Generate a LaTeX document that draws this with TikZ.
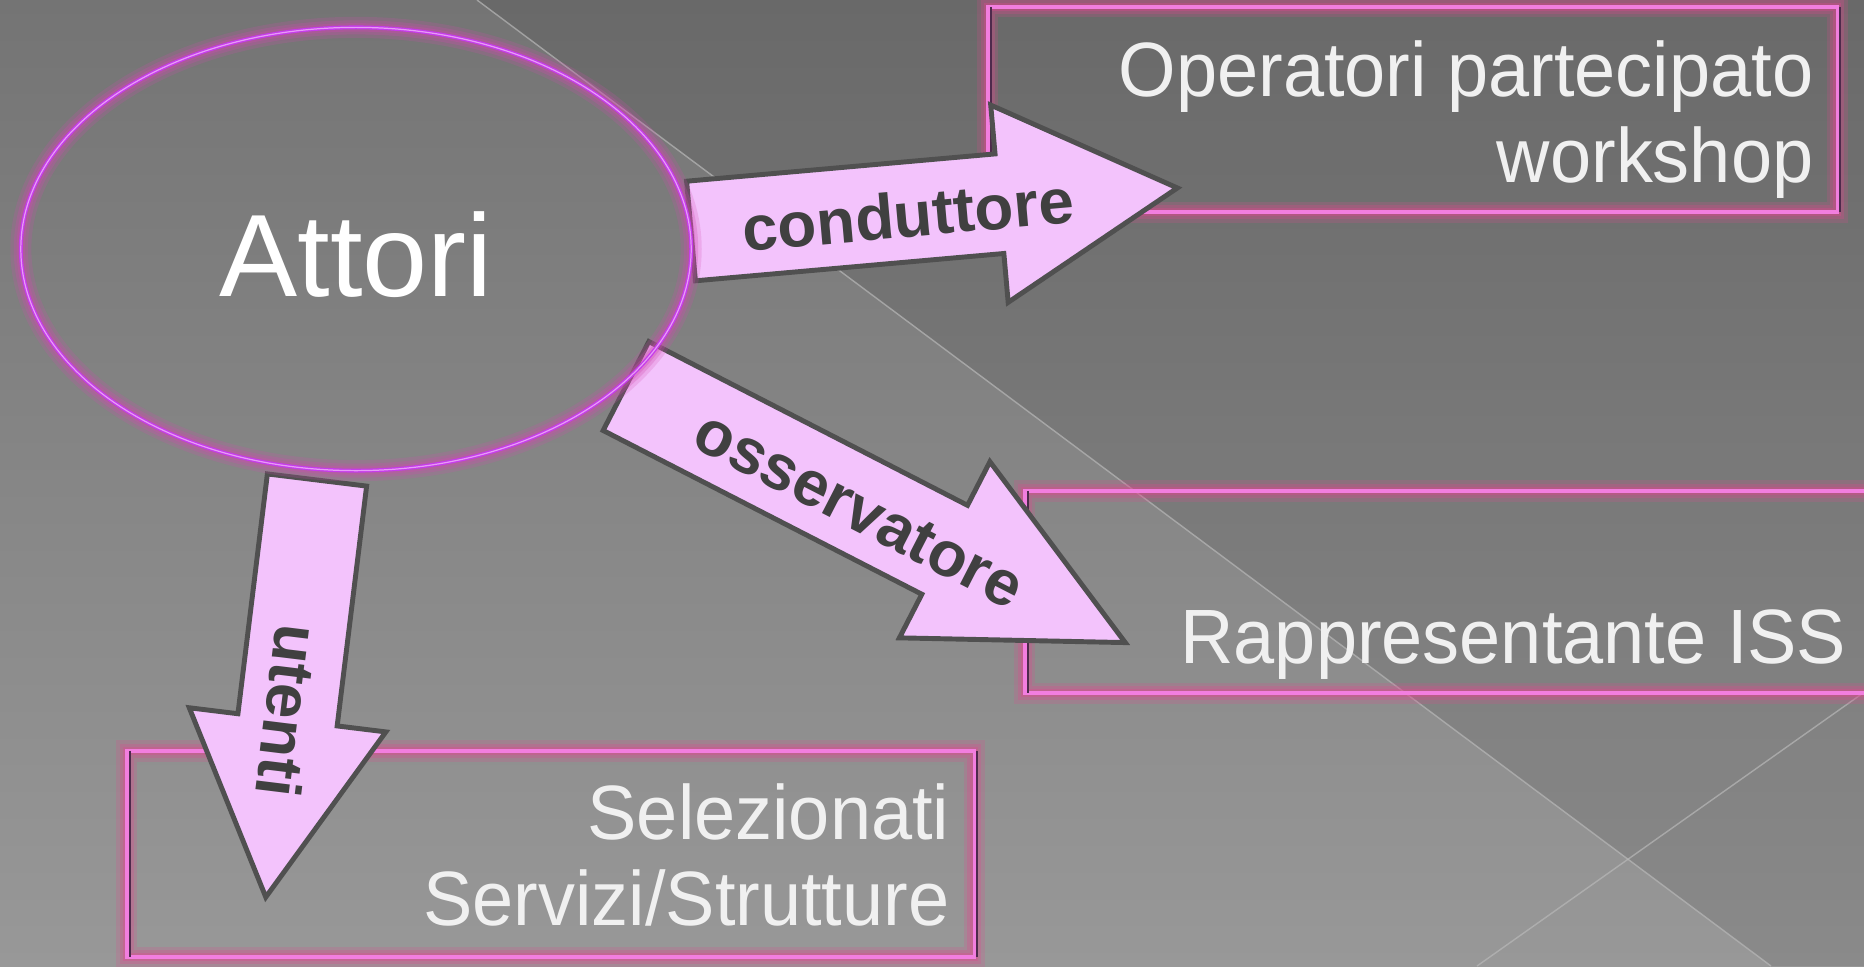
\documentclass[tikz,border=0pt]{standalone}
\usepackage{fontspec}
\setmainfont{Liberation Sans}
\newfontfamily\narrowsans[FakeStretch=0.96]{Liberation Sans}
\usetikzlibrary{shapes.geometric, shapes.arrows}

\definecolor{bgtop}{HTML}{747474}
\definecolor{bgbottom}{HTML}{989898}
\definecolor{bgline}{HTML}{B8B8B8}
\definecolor{framepink}{HTML}{F27EDF}
\definecolor{framedark}{HTML}{4E2A4C}
\definecolor{frameglow}{HTML}{E0488F}
\definecolor{ringviolet}{HTML}{C63CEB}
\definecolor{ringlight}{HTML}{E89AF7}
\definecolor{ringglow}{HTML}{D04AB0}
\definecolor{arrowfill}{HTML}{F3C3FC}
\definecolor{arrowedge}{HTML}{505050}
\definecolor{labelgray}{HTML}{404040}
\definecolor{boxwhite}{HTML}{F0F0F0}

\begin{document}
\begin{tikzpicture}
[
    x=0.01cm, y=-0.01cm,
    % One unit is one pixel of the slide (1864 x 966), y grows downwards
    % Boxes are named B-role, arrows A-role, texts T-role
]

%=================================== Start ===================================
\tikzstyle{haze}    = [preaction={draw=#1, line width=6pt, draw opacity=0.2},
                       preaction={draw=#1, line width=4pt, draw opacity=0.26},
                       preaction={draw=#1, line width=2.4pt, draw opacity=0.32}]
\tikzstyle{glowbox} = [
    rectangle, draw=framepink, line width=1pt, inner sep=0pt, outer sep=0pt,
    haze=frameglow,
    append after command={
        % dark bevel line on the two upright sides
        \foreach \side in {west, east} {
            ([xshift=0.85pt]\tikzlastnode.north \side) edge[draw=framedark, line width=0.6pt]
                ([xshift=0.85pt]\tikzlastnode.south \side)
        }
    }
]
\tikzstyle{blockarrow} = [
    single arrow, draw=arrowedge, fill=arrowfill, line width=1.4pt,
    inner xsep=0pt, inner ysep=0.475cm, outer sep=0pt, anchor=tail,
    single arrow head extend=0.49cm, single arrow tip angle=#1
]
\tikzstyle{arrowlabel} = [anchor=base, inner sep=0pt, text=labelgray,
                          font=\fontsize{18.1}{20}\selectfont\bfseries]
\tikzstyle{boxtext}    = [anchor=base east, inner sep=0pt, text=boxwhite,
                          font=\narrowsans\fontsize{21.9}{24.4}\selectfont]

\useasboundingbox (0,0) rectangle (1864,966);
\clip (0,0) rectangle (1864,966);

% Draw the slide background
\shade[top color=bgtop, bottom color=bgbottom] (0,0) rectangle (1864,966);
\fill[black, opacity=0.09] (477,0) -- (1864,0) -- (1864,966) -- (1771,966) -- cycle;
\draw[bgline, line width=0.4pt, opacity=0.7] (477,0) -- (1771,966);
\draw[bgline, line width=0.4pt, opacity=0.7] (1477,966) -- (1880,681);

% Draw the boxes
\foreach \role / \cx / \cy / \w / \h in {op/1412.5/109.5/8.49/2.05,
                                         iss/1452.5/592/8.55/2.02,
                                         sel/550.5/854/8.47/2.06}
    \node[glowbox, minimum width=\w cm, minimum height=\h cm] (B-\role) at (\cx,\cy) {};

% Draw the box texts
\node[boxtext] (T-op)  at (1814,182) {\begin{tabular}[b]{@{}r@{}}Operatori partecipato\\workshop\end{tabular}};
\node[boxtext] (T-iss) at (1847,663) {Rappresentante ISS};
\node[boxtext] (T-sel) at (950,925)  {\begin{tabular}[b]{@{}r@{}}Selezionati\\Servizi/Strutture\end{tabular}};

% Draw the arrows (tail point, length, angle, tip angle)
\foreach \role / \x / \y / \len / \rot / \tip in {cond/691/231/4.88/5.06/58,
                                                 oss/626/386/5.61/-27.2/52,
                                                 ute/317/480/4.20/-97/58}
    \node[blockarrow=\tip, minimum height=\len cm, rotate=\rot] (A-\role) at (\x,\y) {};

% Draw the actors ring on top
\node[ellipse, draw=ringviolet, line width=1.1pt, haze=ringglow,
      postaction={draw=ringlight, line width=0.35pt},
      minimum width=6.7cm, minimum height=4.43cm, inner sep=0pt,
      text=white, text height=0.94cm, text depth=0pt,
      font=\fontsize{33.3}{40}\selectfont] (attori) at (356,249) {Attori};

% Draw the arrow labels
\foreach \role / \x / \y / \rot / \word in {cond/910/237/5.06/conduttore,
                                           oss/850/528/-27.2/osservatore,
                                           ute/266/708/-97/utenti}
    \node[arrowlabel, rotate=\rot] (T-\role) at (\x,\y) {\word};
%==================================== END ====================================

\end{tikzpicture}
\end{document}
